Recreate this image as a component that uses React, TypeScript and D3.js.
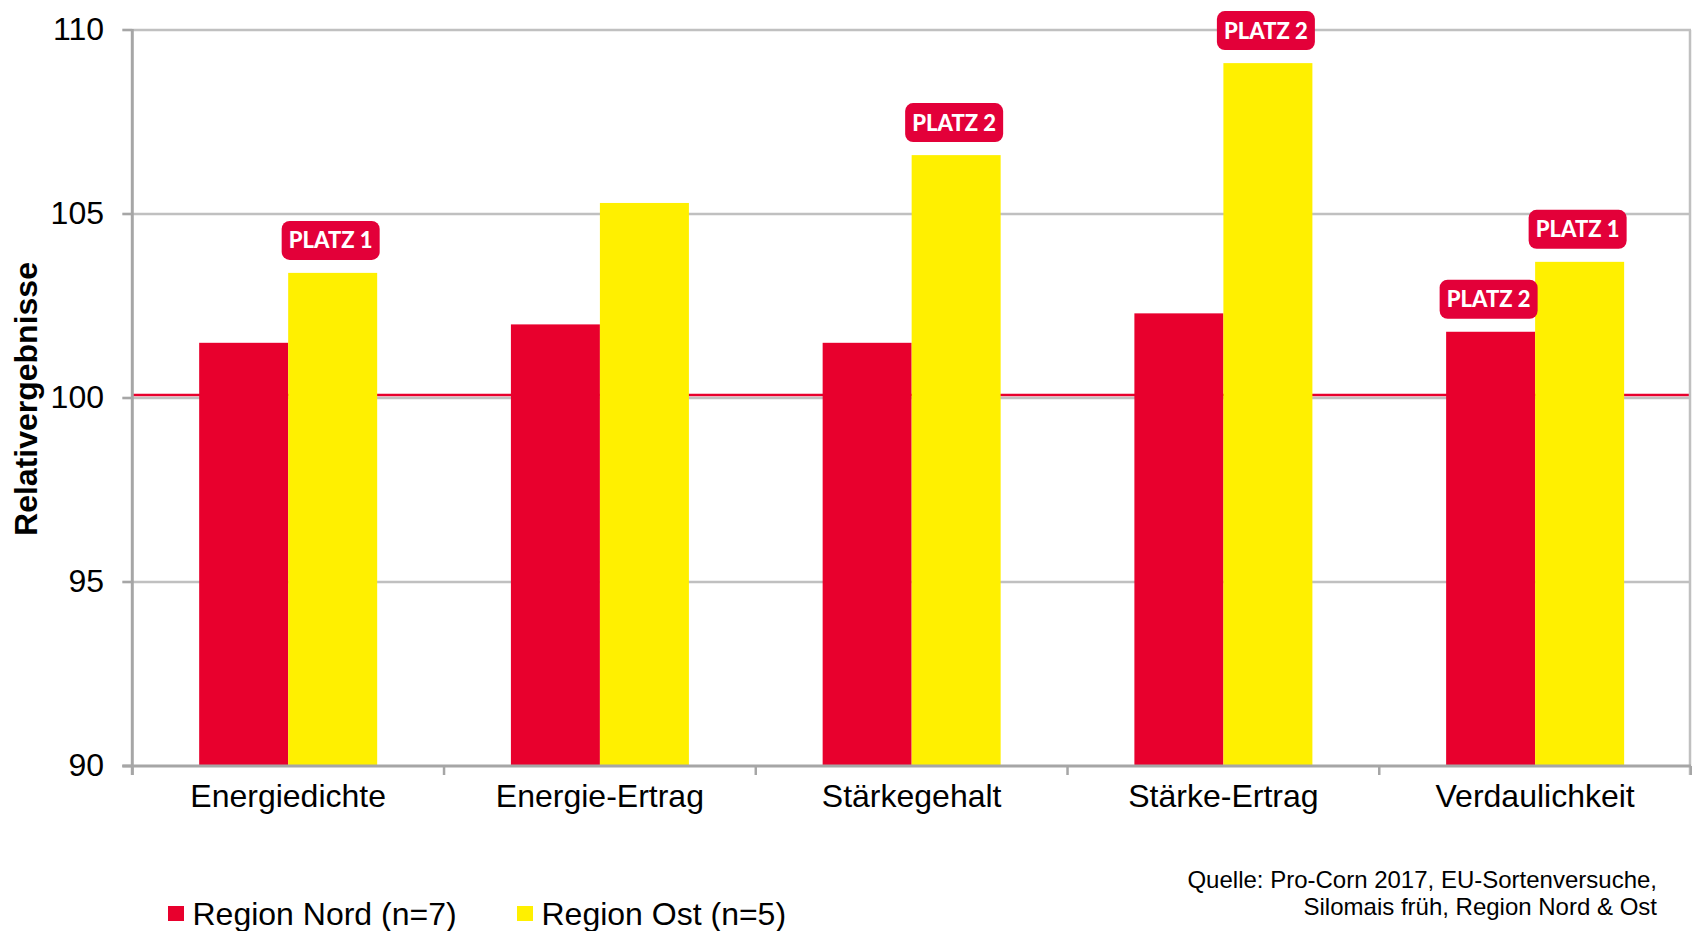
import React from "react";
import * as d3 from "d3";

const categories = ["Energiedichte", "Energie-Ertrag", "Stärkegehalt", "Stärke-Ertrag", "Verdaulichkeit"];
const seriesNames = ["Region Nord (n=7)", "Region Ost (n=5)"];
const nordValues = [101.5, 102.0, 101.5, 102.3, 101.8];
const ostValues = [103.4, 105.3, 106.6, 109.1, 103.7];
const yTicks = [90, 95, 100, 105, 110];
const referenceValue = 100;
const badges = [
  { category: "Energiedichte", series: 1, label: "PLATZ 1" },
  { category: "Stärkegehalt", series: 1, label: "PLATZ 2" },
  { category: "Stärke-Ertrag", series: 1, label: "PLATZ 2" },
  { category: "Verdaulichkeit", series: 0, label: "PLATZ 2" },
  { category: "Verdaulichkeit", series: 1, label: "PLATZ 1" },
];
const sourceLines = ["Quelle: Pro-Corn 2017, EU-Sortenversuche,", "Silomais früh, Region Nord & Ost"];
const axisTitle = "Relativergebnisse";

const W = 1692;
const H = 931;
const colors = ["#E8002D", "#FFF000"];
const badgeColor = "#E30039";
const font = "'Liberation Sans', Arial, Helvetica, sans-serif";

export default function App() {
  const left = 132.3;
  const right = 1691;
  const top = 30;
  const bottom = 766;

  const x = d3.scaleBand<string>().domain(categories).range([left, right]).paddingInner(0).paddingOuter(0);
  const inner = d3.scaleBand<number>().domain([0, 1]).range([0, x.bandwidth() * 0.571]);
  const groupOffset = (x.bandwidth() - x.bandwidth() * 0.571) / 2;
  const y = d3.scaleLinear().domain([90, 110]).range([bottom, top]);

  const values = [nordValues, ostValues];
  const gridColor = "#C0C0C0";
  const axisColor = "#A6A6A6";

  const boundaries = categories.map((c) => x(c)!).concat([right]);

  return (
    <svg width={W} height={H} style={{ position: "absolute", left: 0, top: 0, background: "#fff" }} fontFamily={font}>
      {/* gridlines */}
      {yTicks.filter((t) => t !== 90).map((t) => (
        <line key={"g" + t} x1={left} x2={right} y1={y(t)} y2={y(t)} stroke={gridColor} strokeWidth={2.6} />
      ))}
      {/* reference line */}
      <line x1={left} x2={right} y1={y(referenceValue) - 3} y2={y(referenceValue) - 3} stroke={colors[0]} strokeWidth={2.6} />
      {/* right border */}
      <line x1={right - 1} x2={right - 1} y1={y(110)} y2={bottom + 9} stroke={gridColor} strokeWidth={2.5} />

      {/* bars */}
      {categories.map((c, i) => (
        <g key={c}>
          {values.map((vals, s) => (
            <rect
              key={s}
              x={x(c)! + groupOffset + inner(s)!}
              y={y(vals[i])}
              width={inner.bandwidth()}
              height={y(90) - y(vals[i])}
              fill={colors[s]}
            />
          ))}
        </g>
      ))}

      {/* axes */}
      <line x1={left} x2={left} y1={y(110) - 1} y2={bottom + 9} stroke={axisColor} strokeWidth={3} />
      <line x1={left - 10} x2={right} y1={bottom} y2={bottom} stroke={axisColor} strokeWidth={3} />
      {yTicks.map((t) => (
        <g key={"t" + t}>
          <line x1={left - 10} x2={left} y1={y(t)} y2={y(t)} stroke={axisColor} strokeWidth={2.6} />
          <text x={104} y={y(t) - 1.5} dy="0.36em" textAnchor="end" fontSize={32} fill="#000">
            {t}
          </text>
        </g>
      ))}
      {boundaries.map((b, i) => (
        <line key={"xb" + i} x1={b} x2={b} y1={bottom} y2={bottom + 9} stroke={axisColor} strokeWidth={2.5} />
      ))}
      {categories.map((c) => (
        <text key={"xl" + c} x={x(c)! + x.bandwidth() / 2} y={807} textAnchor="middle" fontSize={32} fill="#000">
          {c}
        </text>
      ))}

      {/* axis title */}
      <text transform={`translate(37, 399) rotate(-90)`} textAnchor="middle" fontSize={32} fontWeight="bold" fill="#000">
        {axisTitle}
      </text>

      {/* badges */}
      {badges.map((b, i) => {
        const idx = categories.indexOf(b.category);
        const v = values[b.series][idx];
        const cx = x(b.category)! + groupOffset + inner(b.series)! + inner.bandwidth() / 2 - 2;
        const bw = 98;
        const bh = 39;
        const by = y(v) - 13 - bh;
        return (
          <g key={"b" + i}>
            <rect x={cx - bw / 2} y={by} width={bw} height={bh} rx={8} ry={8} fill={badgeColor} />
            <text x={cx} y={by + bh / 2} dy="0.36em" textAnchor="middle" fontSize={22} fontWeight={900} fill="#fff" fontFamily="Lato, 'Open Sans', sans-serif">
              {b.label}
            </text>
          </g>
        );
      })}

      {/* legend */}
      {seriesNames.map((n, i) => {
        const lx = [168, 517][i];
        return (
          <g key={"lg" + i}>
            <rect x={lx} y={906} width={16} height={15} fill={colors[i]} />
            <text x={lx + 24.5} y={925} fontSize={32} fill="#000">
              {n}
            </text>
          </g>
        );
      })}

      {/* source */}
      {sourceLines.map((l, i) => (
        <text key={"s" + i} x={1657} y={888 + i * 27} textAnchor="end" fontSize={24} fill="#000">
          {l}
        </text>
      ))}
    </svg>
  );
}
